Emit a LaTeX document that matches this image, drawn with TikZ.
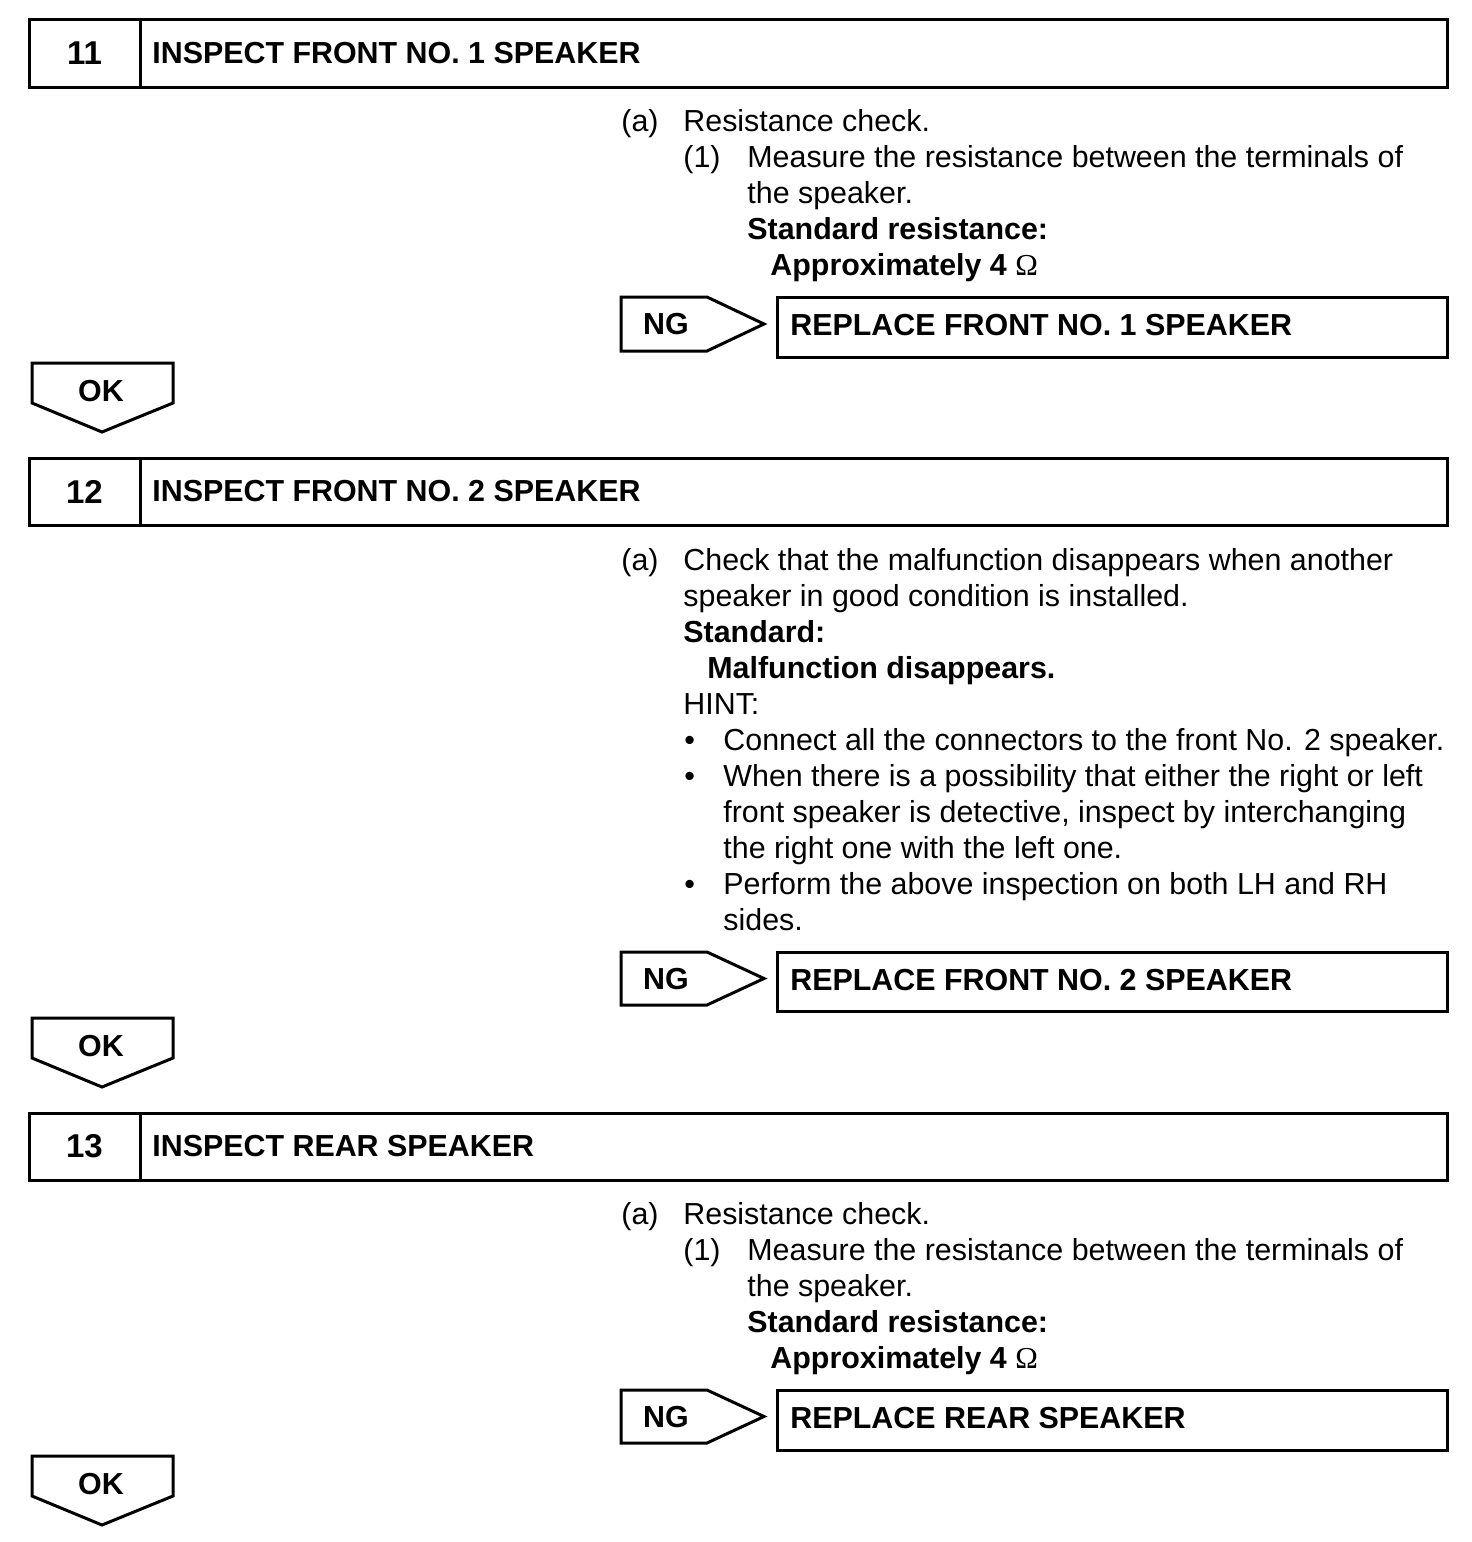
\documentclass[tikz,border=0pt]{standalone}
\usepackage{fontspec}
\setmainfont{Liberation Sans}
\newfontfamily\ohmfont{Liberation Serif}
\usetikzlibrary{positioning}
\definecolor{inkBlack}{HTML}{000000}
\newcommand{\ohm}{{\ohmfont\mdseries Ω}}
\tikzset{
  boxline/.style={draw=inkBlack,line width=1.5pt,line join=miter},
  headnum/.style={font=\fontsize{16.5}{18}\selectfont\bfseries,inner sep=0pt},
  headtxt/.style={anchor=west,font=\fontsize{15.2}{18}\selectfont\bfseries,inner sep=0pt},
  txt/.style={anchor=base west,font=\fontsize{15.2}{18}\selectfont,inner sep=0pt},
  txtb/.style={txt,font=\fontsize{15.2}{18}\selectfont\bfseries},
  tag/.style={font=\fontsize{15.2}{18}\selectfont\bfseries,inner sep=0pt}
}

\begin{document}
\begin{tikzpicture}[x=0.5pt,y=-0.5pt]
  \useasboundingbox (0,0) rectangle (1472,1542);
  % step 11: front no. 1 speaker
  \draw[boxline] (29,19) rectangle (1447,87);
  \draw[boxline] (140,19) -- (140,87);
  \node[headnum] (num11) at (84.5,53) {11};
  \node[headtxt] (head11) at (152,53) {INSPECT FRONT NO. 1 SPEAKER};
  \node[txt] (a11) at (621,131) {(a)};
  \node[txt] (chk11) at (683,131) {Resistance check.};
  \node[txt] (i11) at (683,167) {(1)};
  \node[txt] (meas11) at (747,167) {Measure the resistance between the terminals of};
  \node[txt] (meas11b) at (747,203) {the speaker.};
  \node[txtb] (std11) at (747,239) {Standard resistance:};
  \node[txtb] (val11) at (770,275) {Approximately 4 \ohm};
  \draw[boxline] (621,297) -- (707,297) -- (764,324) -- (707,351) -- (621,351) -- cycle;
  \node[tag] (ng11) at (666,324) {NG};
  \draw[boxline] (777,297) rectangle (1447,357);
  \node[tag,anchor=west] (rep11) at (790,325) {REPLACE FRONT NO. 1 SPEAKER};
  \draw[boxline] (32,363) -- (173,363) -- (173,403) -- (102,432) -- (32,403) -- cycle;
  \node[tag] (ok11) at (101,391) {OK};

  % step 12: front no. 2 speaker
  \draw[boxline] (29,458) rectangle (1447,525);
  \draw[boxline] (140,458) -- (140,525);
  \node[headnum] (num12) at (84.5,491.5) {12};
  \node[headtxt] (head12) at (152,491.5) {INSPECT FRONT NO. 2 SPEAKER};
  \node[txt] (a12) at (621,570) {(a)};
  \node[txt] (chk12) at (683,570) {Check that the malfunction disappears when another};
  \node[txt] (chk12b) at (683,606) {speaker in good condition is installed.};
  \node[txtb] (std12) at (683,642) {Standard:};
  \node[txtb] (val12) at (707,678) {Malfunction disappears.};
  \node[txt] (hint12) at (683,714) {HINT:};
  \node[txt] (b1) at (684,750) {•};
  \node[txt] (h1) at (723,750) {Connect all the connectors to the front No. 2 speaker.};
  \node[txt] (b2) at (684,786) {•};
  \node[txt] (h2) at (723,786) {When there is a possibility that either the right or left};
  \node[txt] (h2b) at (723,822) {front speaker is detective, inspect by interchanging};
  \node[txt] (h2c) at (723,858) {the right one with the left one.};
  \node[txt] (b3) at (684,894) {•};
  \node[txt] (h3) at (723,894) {Perform the above inspection on both LH and RH};
  \node[txt] (h3b) at (723,930) {sides.};
  \draw[boxline] (621,952) -- (707,952) -- (764,978.5) -- (707,1005) -- (621,1005) -- cycle;
  \node[tag] (ng12) at (666,979) {NG};
  \draw[boxline] (777,952) rectangle (1447,1011);
  \node[tag,anchor=west] (rep12) at (790,980) {REPLACE FRONT NO. 2 SPEAKER};
  \draw[boxline] (32,1018) -- (173,1018) -- (173,1058) -- (102,1087) -- (32,1058) -- cycle;
  \node[tag] (ok12) at (101,1046) {OK};

  % step 13: rear speaker
  \draw[boxline] (29,1113) rectangle (1447,1180);
  \draw[boxline] (140,1113) -- (140,1180);
  \node[headnum] (num13) at (84.5,1146.5) {13};
  \node[headtxt] (head13) at (152,1146.5) {INSPECT REAR SPEAKER};
  \node[txt] (a13) at (621,1224) {(a)};
  \node[txt] (chk13) at (683,1224) {Resistance check.};
  \node[txt] (i13) at (683,1260) {(1)};
  \node[txt] (meas13) at (747,1260) {Measure the resistance between the terminals of};
  \node[txt] (meas13b) at (747,1296) {the speaker.};
  \node[txtb] (std13) at (747,1332) {Standard resistance:};
  \node[txtb] (val13) at (770,1368) {Approximately 4 \ohm};
  \draw[boxline] (621,1390) -- (707,1390) -- (764,1416.5) -- (707,1443) -- (621,1443) -- cycle;
  \node[tag] (ng13) at (666,1417) {NG};
  \draw[boxline] (777,1390) rectangle (1447,1450);
  \node[tag,anchor=west] (rep13) at (790,1418) {REPLACE REAR SPEAKER};
  \draw[boxline] (32,1456) -- (173,1456) -- (173,1496) -- (102,1525) -- (32,1496) -- cycle;
  \node[tag] (ok13) at (101,1484) {OK};
\end{tikzpicture}
\end{document}
